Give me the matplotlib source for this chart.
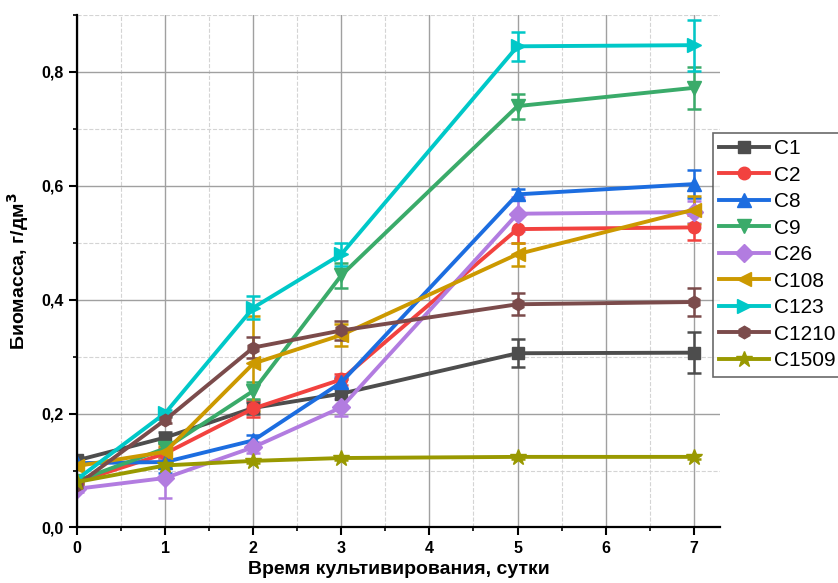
import matplotlib
matplotlib.use("Agg")

import matplotlib.pyplot as plt
from matplotlib.lines import Line2D
from matplotlib.ticker import MultipleLocator, FuncFormatter

plt.rcParams["font.family"] = ["Liberation Sans", "DejaVu Sans"]

days = [0, 1, 2, 3, 5, 7]

labels = ["C1", "C2", "C8", "C9", "C26", "C108", "C123", "C1210", "C1509"]

c1 = [0.118, 0.158, 0.210, 0.235, 0.306, 0.307]
c2 = [0.080, 0.130, 0.209, 0.260, 0.524, 0.527]
c8 = [0.113, 0.115, 0.153, 0.255, 0.585, 0.603]
c9 = [0.082, 0.139, 0.240, 0.443, 0.740, 0.772]
c26 = [0.068, 0.087, 0.141, 0.211, 0.551, 0.554]
c108 = [0.108, 0.133, 0.288, 0.338, 0.480, 0.558]
c123 = [0.085, 0.201, 0.386, 0.480, 0.845, 0.847]
c1210 = [0.075, 0.189, 0.316, 0.346, 0.392, 0.396]
c1509 = [0.080, 0.109, 0.117, 0.122, 0.124, 0.124]

c1_err = [0.005, 0.010, 0.010, 0.025, 0.025, 0.036]
c2_err = [0.005, 0.010, 0.015, 0.010, 0.025, 0.022]
c8_err = [0.005, 0.020, 0.010, 0.010, 0.010, 0.025]
c9_err = [0.005, 0.010, 0.015, 0.022, 0.022, 0.037]
c26_err = [0.005, 0.035, 0.010, 0.015, 0.030, 0.020]
c108_err = [0.005, 0.010, 0.083, 0.020, 0.020, 0.025]
c123_err = [0.005, 0.005, 0.020, 0.020, 0.025, 0.045]
c1210_err = [0.005, 0.005, 0.018, 0.017, 0.019, 0.025]
c1509_err = [0.003, 0.003, 0.003, 0.003, 0.003, 0.003]

series = [c1, c2, c8, c9, c26, c108, c123, c1210, c1509]
errors = [c1_err, c2_err, c8_err, c9_err, c26_err, c108_err,
          c123_err, c1210_err, c1509_err]

colors = ["#4d4d4d", "#f2423f", "#1c6de0", "#3aab6a", "#b27ce0",
          "#cc9900", "#00c8c8", "#7b4b4b", "#999900"]
markers = ["s", "o", "^", "v", "D", "<", ">", "h", "*"]
sizes = [9, 9, 10, 10, 9, 10, 10, 9, 12]

fig = plt.figure(figsize=(8.38, 5.83), dpi=100)
ax = fig.add_axes([0.0922, 0.0952, 0.7670, 0.8791])

handles = []

for values, err, label, color, marker, ms in zip(
        series, errors, labels, colors, markers, sizes):

    ax.errorbar(
        days,
        values,
        yerr=err,
        color=color,
        marker=marker,
        markersize=ms,
        linewidth=2.8,
        elinewidth=1.8,
        capsize=5,
        capthick=1.8
    )

    # legend shows only line + marker, no error caps
    handles.append(
        Line2D([], [], color=color, marker=marker, markersize=ms,
               linewidth=2.8, label=label)
    )

ax.set_xlim(0, 7.3)
ax.set_ylim(0, 0.9)

ax.xaxis.set_major_locator(MultipleLocator(1))
ax.xaxis.set_minor_locator(MultipleLocator(0.5))
ax.yaxis.set_major_locator(MultipleLocator(0.2))
ax.yaxis.set_minor_locator(MultipleLocator(0.1))

ax.yaxis.set_major_formatter(
    FuncFormatter(lambda v, pos: f"{v:.1f}".replace(".", ","))
)

ax.grid(which="major", color="#a0a0a0", linewidth=1.0, linestyle="-")
ax.grid(which="minor", color="#d4d4d4", linewidth=0.8, linestyle="--")
ax.set_axisbelow(True)

ax.spines["top"].set_visible(False)
ax.spines["right"].set_visible(False)
ax.spines["left"].set_linewidth(1.6)
ax.spines["bottom"].set_linewidth(1.6)

ax.tick_params(which="major", direction="out", length=6, width=1.5,
               labelsize=11.5)
ax.tick_params(which="minor", direction="out", length=3, width=1.2)

for tick_label in ax.get_xticklabels() + ax.get_yticklabels():
    tick_label.set_fontweight("bold")

ax.set_xlabel(
    "Время культивирования, сутки",
    fontsize=14,
    fontweight="bold",
    labelpad=4
)

ax.set_ylabel(
    "Биомасса, г/дм$^\\mathbf{3}$",
    fontsize=14,
    fontweight="bold",
    labelpad=8
)

legend = fig.legend(
    handles=handles,
    loc="upper left",
    bbox_to_anchor=(713 / 838, 1 - 133 / 583),
    fontsize=15,
    frameon=True,
    fancybox=False,
    borderpad=0.3,
    labelspacing=0.36,
    handlelength=2.4,
    handletextpad=0.25,
    borderaxespad=0
)

legend.get_frame().set_edgecolor("#444444")
legend.get_frame().set_linewidth(1.2)

fig.savefig("out.png", dpi=100)
